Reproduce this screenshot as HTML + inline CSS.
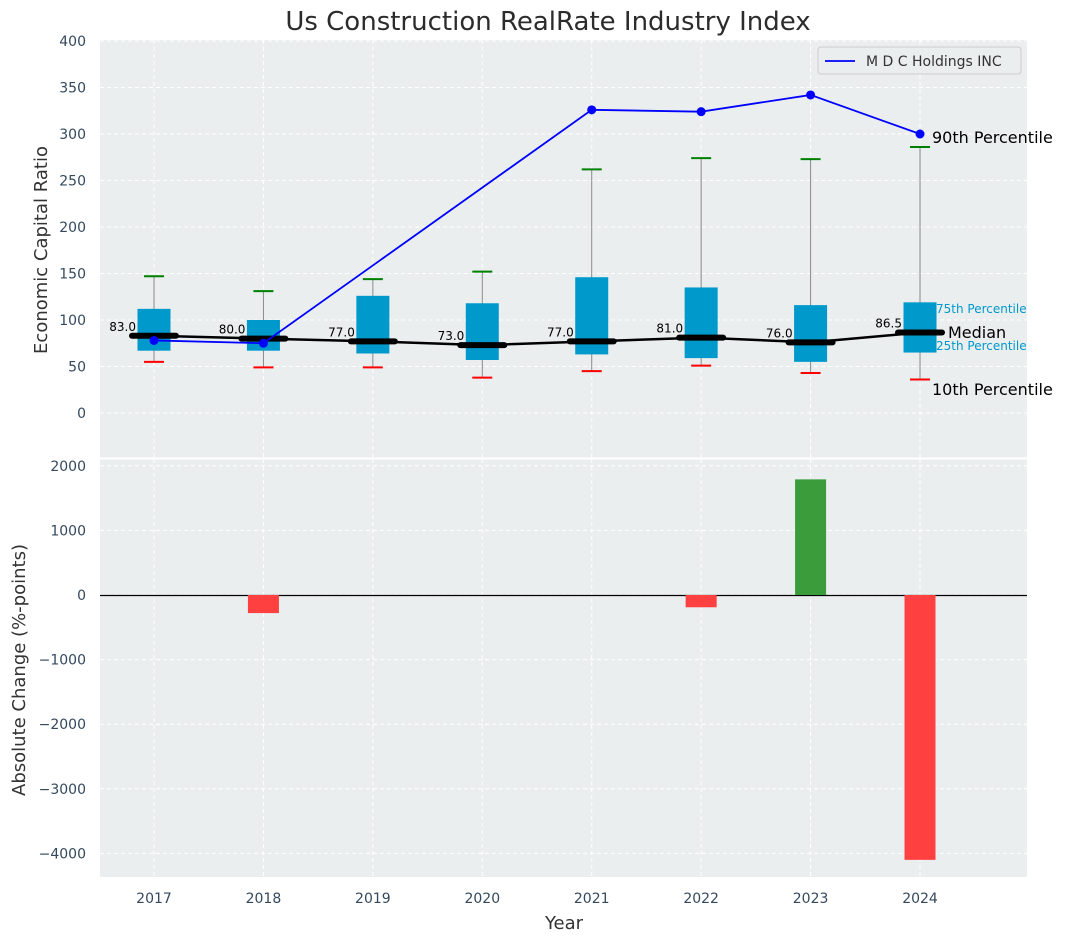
<!DOCTYPE html>
<html><head><meta charset="utf-8"><style>
body{margin:0;background:#fff;font-family:"Liberation Sans","DejaVu Sans",sans-serif}
svg text{font-family:"DejaVu Sans","Liberation Sans",sans-serif}
</style></head><body>
<svg id="c" width="1067" height="942"></svg>
<script>
const years=[2017,2018,2019,2020,2021,2022,2023,2024];
const p10=[55,49,49,38,45,51,43,36];
const p25=[67,67,64,57,63,59,55,65];
const med=[83,80,77,73,77,81,76,86.5];
const p75=[112,100,126,118,146,135,116,119];
const p90=[147,131,144,152,262,274,273,286];
const mdcYears=[2017,2018,2021,2022,2023,2024];
const mdcVals=[78,75,326,324,342,300];
const chgYears=[2018,2022,2023,2024];
const chgVals=[-280,-190,1790,-4100];
const topTicks=[0,50,100,150,200,250,300,350,400];
const botTicks=[-4000,-3000,-2000,-1000,0,1000,2000];

const svg=document.getElementById('c');const NS='http://www.w3.org/2000/svg';
function el(t,a,name,txt){const e=document.createElementNS(NS,t);for(const k in a)e.setAttribute(k,a[k]);


if(txt!==undefined)e.textContent=txt;svg.appendChild(e);return e;}
const L=100,R=1027;
const x=v=>154+(v-2017)*109.43;
const T0=40,T1=458,yt=v=>413-v*(372/400);
const B0=459,B1=877,yb=v=>595-v*0.0646;
el('rect',{x:L,y:T0,width:R-L,height:T1-T0,fill:'#eaeeef'},'top-plot-area');
el('rect',{x:L,y:B0,width:R-L,height:B1-B0,fill:'#eaeeef'},'bottom-plot-area');
years.forEach(y=>{[[T0,T1],[B0,B1]].forEach(r=>el('line',{x1:x(y),x2:x(y),y1:r[0],y2:r[1],stroke:'#fff','stroke-dasharray':'4,3','stroke-width':1},'x-grid'));
el('text',{x:x(y),y:903,'font-size':14,fill:'#34495e','text-anchor':'middle'},'x-tick-label',y);});
topTicks.forEach(t=>{el('line',{x1:L,x2:R,y1:yt(t),y2:yt(t),stroke:'#fff','stroke-dasharray':'4,3'},'y-grid');
el('text',{x:86,y:yt(t)+5,'font-size':14,fill:'#34495e','text-anchor':'end'},'y-tick-label',t);});
botTicks.forEach(t=>{el('line',{x1:L,x2:R,y1:yb(t),y2:yb(t),stroke:'#fff','stroke-dasharray':'4,3'},'y-grid');
el('text',{x:86,y:yb(t)+5,'font-size':14,fill:'#34495e','text-anchor':'end'},'y-tick-label',String(t).replace('-','−'));});
el('text',{x:548,y:30,'font-size':26,fill:'#2c2c2c','text-anchor':'middle'},'chart-title','Us Construction RealRate Industry Index');
el('text',{x:0,y:0,'font-size':18,fill:'#333','text-anchor':'middle',transform:'translate(47,250) rotate(-90)'},'y-axis-title-top','Economic Capital Ratio');
el('text',{x:0,y:0,'font-size':18,fill:'#333','text-anchor':'middle',transform:'translate(25,670) rotate(-90)'},'y-axis-title-bottom','Absolute Change (%-points)');
el('text',{x:564,y:929,'font-size':18,fill:'#333','text-anchor':'middle'},'x-axis-title','Year');
const bw=33;
years.forEach((y,i)=>{const cx=x(y);
el('line',{x1:cx,x2:cx,y1:yt(p10[i]),y2:yt(p90[i]),stroke:'#888','stroke-width':1},'whisker');
el('rect',{x:cx-bw/2,y:yt(p75[i]),width:bw,height:yt(p25[i])-yt(p75[i]),fill:'#0099cc'},'iqr-box-'+y);
el('line',{x1:cx-10,x2:cx+10,y1:yt(p90[i]),y2:yt(p90[i]),stroke:'green','stroke-width':2},'p90-cap');
el('line',{x1:cx-10,x2:cx+10,y1:yt(p10[i]),y2:yt(p10[i]),stroke:'red','stroke-width':2},'p10-cap');
el('line',{x1:cx-22,x2:cx+22,y1:yt(med[i]),y2:yt(med[i]),stroke:'#000','stroke-width':6,'stroke-linecap':'round'},'median-marker');
el('text',{x:cx-18,y:yt(med[i])-5,'font-size':12,fill:'#000','text-anchor':'end'},'median-label',med[i].toFixed(1));});
el('polyline',{points:years.map((y,i)=>x(y)+','+yt(med[i])).join(' '),fill:'none',stroke:'#000','stroke-width':2.5},'median-line');
el('polyline',{points:mdcYears.map((y,i)=>x(y)+','+yt(mdcVals[i])).join(' '),fill:'none',stroke:'blue','stroke-width':1.8},'mdc-line');
mdcYears.forEach((y,i)=>el('circle',{cx:x(y),cy:yt(mdcVals[i]),r:4.5,fill:'blue'},'mdc-point'));
const lx=x(2024);
el('text',{x:lx+12,y:143,'font-size':16,fill:'#000'},'p90-label','90th Percentile');
el('text',{x:lx+12,y:395,'font-size':16,fill:'#000'},'p10-label','10th Percentile');
el('text',{x:lx+28,y:338,'font-size':16,fill:'#000'},'median-text','Median');
el('text',{x:lx+16,y:313,'font-size':12,fill:'#0099cc'},'p75-label','75th Percentile');
el('text',{x:lx+16,y:350,'font-size':12,fill:'#0099cc'},'p25-label','25th Percentile');
el('rect',{x:818,y:47,width:203,height:27,fill:'#eaeeef',stroke:'#ccc',rx:3},'legend');
el('line',{x1:825,x2:855,y1:61,y2:61,stroke:'blue','stroke-width':1.8},'legend-line');
el('text',{x:866,y:66,'font-size':14,fill:'#333'},'legend-entry','M D C Holdings INC');
el('line',{x1:L,x2:R,y1:595.5,y2:595.5,stroke:'#000','stroke-width':1.2},'zero-line');
chgYears.forEach((y,i)=>{const v=chgVals[i];
el('rect',{x:x(y)-15.5,y:Math.min(yb(0),yb(v)),width:31,height:Math.abs(yb(v)-yb(0)),fill:v>=0?'#3a9c3a':'#ff4040'},'change-bar-'+y);});
el('line',{x1:L,x2:R,y1:458.5,y2:458.5,stroke:'#fff','stroke-width':2},'separator');
</script></body></html>
